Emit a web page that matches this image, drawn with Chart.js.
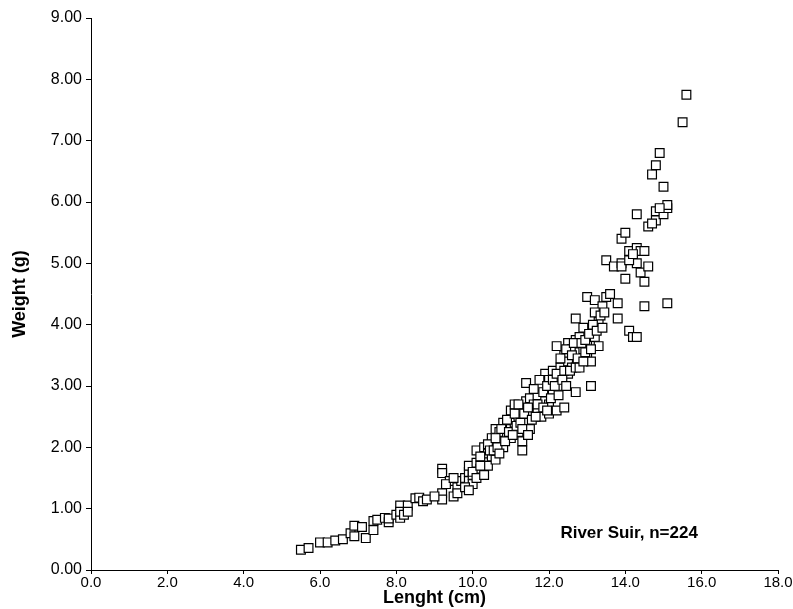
<!DOCTYPE html>
<html>
<head>
<meta charset="utf-8">
<script src="https://cdn.jsdelivr.net/npm/chart.js@4.4.0/dist/chart.umd.min.js"></script>
<style>
  html, body { margin: 0; padding: 0; background: #fff; }
  #wrap { width: 793px; height: 609px; }
</style>
</head>
<body>
<div id="wrap"><canvas id="lwChart" width="793" height="609"></canvas></div>
<script>
// length (cm) and weight (g)
const lengthCm = [
  5.5, 5.7, 6.0, 6.2, 6.4, 6.6, 6.8, 6.9, 6.9, 7.1, 7.2, 7.4, 7.4, 7.5, 7.7, 7.8, 7.8, 8.0, 8.1, 8.1,
  8.1, 8.2, 8.3, 8.3, 8.5, 8.6, 8.7, 8.8,
  9.2, 9.2, 9.2, 9.2,
  9.4, 9.5, 9.6, 9.7, 9.8, 9.9, 9.9, 9.9, 10.0, 10.0,
  10.1, 10.1, 10.2, 10.3, 10.3, 10.4, 10.4, 10.5, 10.5, 10.5,
  10.6, 10.6, 10.7, 10.7, 10.8, 10.8, 10.9, 10.9, 11.0, 11.0, 11.0,
  11.1, 11.1, 11.2, 11.2, 11.3, 11.3, 11.3, 11.4, 11.4, 11.4, 11.5, 11.5, 11.5,
  11.6, 11.7, 11.7, 11.8, 11.8, 11.9, 11.9, 12.0, 12.0, 12.0, 12.1, 12.1,
  12.2, 12.2, 12.3, 12.3, 12.4, 12.4, 12.5, 12.5, 12.5,
  12.6, 12.6, 12.7, 12.7, 12.7, 12.8, 12.8, 12.9, 12.9, 13.0, 13.0, 13.0,
  13.1, 13.1, 13.2, 13.2, 13.3, 13.3, 13.4, 13.5, 13.5,
  13.7, 13.8, 13.8, 13.9, 13.9, 14.0, 14.0, 14.1, 14.1,
  14.2, 14.3, 14.3, 14.3, 14.3, 14.4, 14.4, 14.5, 14.5, 14.5, 14.6,
  14.6, 14.7, 14.8, 14.8, 14.8, 14.9, 15.0, 15.0, 15.1, 15.1, 15.1,
  15.5, 15.6,
  9.0, 9.3, 9.5, 9.6, 9.8, 9.9,
  10.0, 10.1, 10.2, 10.2, 10.3, 10.4, 10.45,
  10.55, 10.6, 10.65, 10.7, 10.75, 10.85, 10.9, 10.95,
  11.05, 11.1, 11.15, 11.2, 11.25, 11.3, 11.35, 11.45, 11.45,
  11.55, 11.6, 11.65, 11.7, 11.75, 11.85, 11.85, 11.95, 11.95,
  12.05, 12.1, 12.15, 12.2, 12.25, 12.3, 12.35, 12.4, 12.45, 12.45,
  12.55, 12.6, 12.65, 12.7, 12.75, 12.8, 12.85, 12.9, 12.95, 12.95,
  13.05, 13.1, 13.15, 13.2, 13.25, 13.35, 13.4, 13.45,
  13.6, 13.9, 14.1, 14.2,
  14.7, 14.9
];
const weightG = [
  0.33, 0.36, 0.45, 0.45, 0.48, 0.50, 0.60, 0.72, 0.55, 0.70, 0.52, 0.65, 0.80, 0.82, 0.85, 0.78, 0.84, 0.90, 0.85, 1.05,
  0.95, 0.90, 1.05, 0.95, 1.17, 1.18, 1.12, 1.15,
  1.65, 1.58, 1.25, 1.15,
  1.45, 1.20, 1.35, 1.45, 1.50, 1.60, 1.70, 1.45, 1.55, 1.40,
  1.75, 1.95, 1.65, 1.80, 2.00, 1.70, 1.90, 2.05, 2.15, 1.85,
  2.30, 1.80, 2.10, 2.25, 2.00, 2.40, 2.20, 2.35, 2.60, 2.30, 2.15,
  2.70, 2.40, 2.25, 2.50, 2.60, 1.95, 2.10, 2.75, 3.05, 2.40, 2.55, 2.80, 2.30,
  2.70, 2.60, 2.85, 2.50, 3.00, 2.75, 3.20, 2.55, 3.10, 2.70, 3.25, 2.90,
  3.65, 2.60, 3.00, 3.30, 3.50, 2.65, 3.40, 3.70, 3.20,
  3.60, 3.30, 4.10, 3.75, 2.90, 3.55, 3.80, 3.60, 3.95, 4.45, 3.70, 3.50,
  3.00, 3.40, 4.40, 3.80, 4.05, 3.65, 4.30, 4.45, 5.05,
  4.95, 4.35, 4.10, 5.40, 5.00, 5.50, 4.75, 5.20, 3.90,
  3.80, 3.80, 5.80, 5.00, 5.25, 4.85, 5.20, 4.30, 4.70, 5.20, 4.95,
  5.60, 6.45, 6.60, 5.85, 5.70, 6.80, 6.25, 5.80, 5.90, 5.95, 4.35,
  7.30, 7.75,
  1.20, 1.40, 1.50, 1.25, 1.35, 1.30,
  1.60, 1.50, 1.85, 1.70, 1.55, 2.05, 1.95,
  1.95, 2.15, 2.00, 1.90, 2.30, 2.10, 2.45, 2.25,
  2.20, 2.55, 2.35, 2.70, 2.40, 2.30, 2.55, 2.65, 2.20,
  2.45, 2.95, 2.50, 2.70, 3.10, 2.65, 2.90, 2.60, 3.00,
  2.80, 3.10, 3.00, 3.20, 2.85, 3.45, 3.10, 3.25, 3.60, 3.00,
  3.25, 3.50, 3.70, 3.30, 3.45, 3.30, 3.70, 3.40, 3.75, 3.55,
  3.85, 3.60, 4.00, 4.20, 3.90, 4.15, 3.95, 4.20,
  4.50, 4.95, 5.05, 5.15,
  5.65, 5.90
];
const noteText = 'River Suir, n=224';
const noteAt = [14.1, 0.6];

const points = lengthCm.map((x, i) => ({ x: x, y: weightG[i] }));
const fontFam = '"Liberation Sans", Arial, sans-serif';

const notePlugin = {
  id: 'notePlugin',
  afterDatasetsDraw(chart) {
    const c = chart.ctx;
    const px = chart.scales.x.getPixelForValue(noteAt[0]);
    const py = chart.scales.y.getPixelForValue(noteAt[1]);
    c.save();
    c.font = 'bold 17px ' + fontFam;
    c.fillStyle = '#000';
    c.textAlign = 'center';
    c.textBaseline = 'middle';
    c.fillText(noteText, px, py);
    c.restore();
  }
};

const ctx = document.getElementById('lwChart').getContext('2d');
new Chart(ctx, {
  type: 'scatter',
  data: {
    datasets: [{
      label: 'River Suir',
      data: points,
      pointStyle: 'rect',
      pointRadius: 6.2,
      pointBackgroundColor: '#fff',
      pointBorderColor: '#000',
      pointBorderWidth: 1.2
    }]
  },
  options: {
    responsive: false,
    animation: false,
    layout: { padding: { top: 18, right: 15, left: 0, bottom: 0 } },
    plugins: { legend: { display: false }, tooltip: { enabled: false } },
    scales: {
      x: {
        type: 'linear', min: 0, max: 18,
        afterFit: s => { s.height = 39; },
        border: { color: '#000', width: 1 },
        grid: { drawOnChartArea: false, drawTicks: true, tickLength: 4, color: '#000' },
        ticks: {
          stepSize: 2, color: '#000', padding: 0,
          font: { family: fontFam, size: 15 },
          callback: v => v.toFixed(1)
        },
        title: {
          display: true, text: 'Lenght (cm)', color: '#000', padding: 0,
          font: { family: fontFam, size: 18, weight: 'bold' }
        }
      },
      y: {
        type: 'linear', min: 0, max: 9,
        afterFit: s => { s.width = 91; },
        border: { color: '#000', width: 1 },
        grid: { drawOnChartArea: false, drawTicks: true, tickLength: 5, color: '#000' },
        ticks: {
          stepSize: 1, color: '#000', padding: 4,
          font: { family: fontFam, size: 16 },
          callback: v => v.toFixed(2)
        },
        title: {
          display: true, text: 'Weight (g)', color: '#000', padding: { top: 9, bottom: 0 },
          font: { family: fontFam, size: 18, weight: 'bold' }
        }
      }
    }
  },
  plugins: [notePlugin]
});
</script>
</body>
</html>
